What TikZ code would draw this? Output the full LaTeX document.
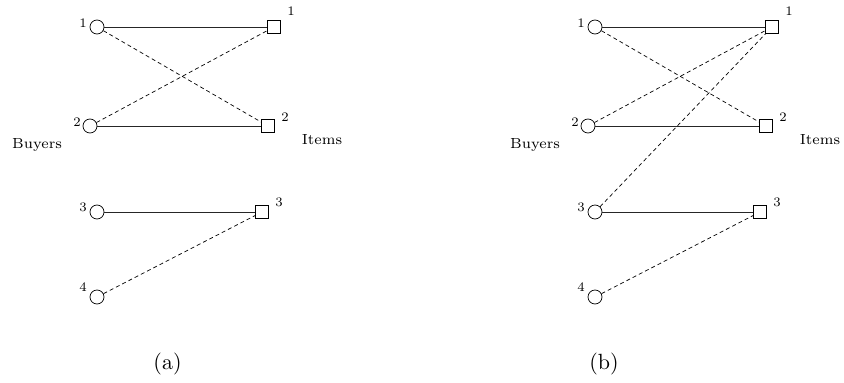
\documentclass[tikz,border=0pt]{standalone}
\font\lblfont="[lmroman7-regular]" at 13pt
\font\sidefont="[lmroman7-regular]" at 14.6pt
\font\capfont="[lmroman10-regular]" at 22pt
\begin{document}
\begin{tikzpicture}[x=1pt,y=-1pt,
  buyer/.style={circle,draw,line width=0.7pt,minimum size=14pt,inner sep=0pt},
  item/.style={rectangle,draw,line width=0.7pt,minimum size=12.5pt,inner sep=0pt},
  lbl/.style={inner sep=0pt,font=\lblfont},
  side/.style={inner sep=0pt,font=\sidefont},
  captext/.style={inner sep=0pt,font=\capfont},
  match/.style={line width=0.8pt,draw=black!85},
  alt/.style={line width=0.7pt,dash pattern=on 4pt off 3pt}]
\useasboundingbox (0,0) rectangle (844,383);
% ---------- panel (a)
\node[buyer] (ab1) at (97,27) {};
\node[buyer] (ab2) at (90,126) {};
\node[buyer] (ab3) at (97,212) {};
\node[buyer] (ab4) at (97,297) {};
\node[item] (ai1) at (274,27) {};
\node[item] (ai2) at (268,126) {};
\node[item] (ai3) at (262,212) {};
\node[lbl] (lab1) at (83,23) {1};
\node[lbl] (lab2) at (77,122) {2};
\node[lbl] (lab3) at (83,207) {3};
\node[lbl] (lab4) at (83,287) {4};
\node[lbl] (lai1) at (291,11) {1};
\node[lbl] (lai2) at (285,117) {2};
\node[lbl] (lai3) at (279,202) {3};
\node[side] (abuy) at (37,145) {Buyers};
\node[side] (aitm) at (322,140) {Items};
\node[captext] (acap) at (167.5,364) {(a)};
\draw[match] (ab1) -- (ai1);
\draw[match] (ab2) -- (ai2);
\draw[match] (ab3) -- (ai3);
\draw[alt] (ab1) -- (ai2);
\draw[alt] (ab2) -- (ai1);
\draw[alt] (ab4) -- (ai3);
% ---------- panel (b)
\node[buyer] (bb1) at (595,27) {};
\node[buyer] (bb2) at (588,126) {};
\node[buyer] (bb3) at (595,212) {};
\node[buyer] (bb4) at (595,297) {};
\node[item] (bi1) at (772,27) {};
\node[item] (bi2) at (766,126) {};
\node[item] (bi3) at (760,212) {};
\node[lbl] (lbb1) at (581,23) {1};
\node[lbl] (lbb2) at (575,122) {2};
\node[lbl] (lbb3) at (581,207) {3};
\node[lbl] (lbb4) at (581,287) {4};
\node[lbl] (lbi1) at (789,11) {1};
\node[lbl] (lbi2) at (783,117) {2};
\node[lbl] (lbi3) at (777,202) {3};
\node[side] (bbuy) at (535,145) {Buyers};
\node[side] (bitm) at (820,140) {Items};
\node[captext] (bcap) at (604,364) {(b)};
\draw[match] (bb1) -- (bi1);
\draw[match] (bb2) -- (bi2);
\draw[match] (bb3) -- (bi3);
\draw[alt] (bb1) -- (bi2);
\draw[alt] (bb2) -- (bi1);
\draw[alt] (bb3) -- (bi1);
\draw[alt] (bb4) -- (bi3);
\end{tikzpicture}
\end{document}
